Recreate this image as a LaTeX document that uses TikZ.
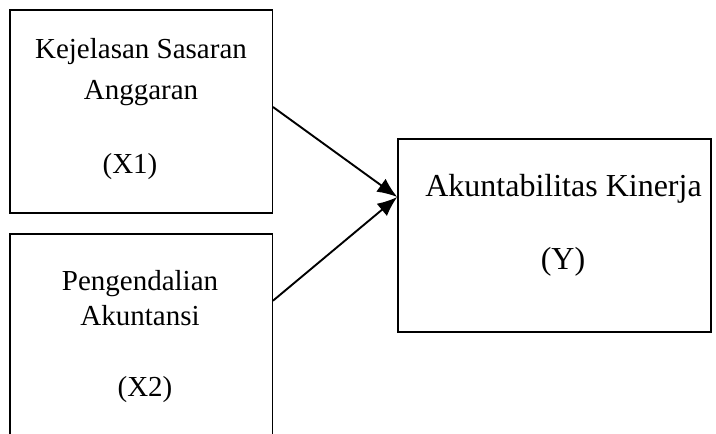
\documentclass[tikz,border=0pt]{standalone}
\usepackage{fontspec}
\setmainfont{Liberation Serif}
\usetikzlibrary{arrows.meta}
\begin{document}
\begin{tikzpicture}[x=1pt,y=-1pt,
  box/.style={draw=black,line width=1.5pt,rectangle,inner sep=0pt},
  lbl/.style={anchor=base,inner sep=0pt,font=\fontsize{29}{33}\selectfont},
  biglbl/.style={anchor=base,inner sep=0pt,font=\fontsize{32}{36}\selectfont},
  arr/.style={line width=1.9pt,-{Latex[length=20pt,width=16pt]}}]
\useasboundingbox (0,0) rectangle (716,434);
\clip (0,0) rectangle (716,434);
\node[box,minimum width=262.5pt,minimum height=203pt] (x1) at (141,111.5) {};
\node[box,minimum width=262.5pt,minimum height=216pt] (x2) at (141,342) {};
\node[box,minimum width=313pt,minimum height=193pt] (y) at (554.5,235.5) {};
\node[lbl] (t1a) at (141,58.3) {Kejelasan Sasaran};
\node[lbl] (t1b) at (141,99) {Anggaran};
\node[lbl] (t1c) at (130,173.3) {(X1)};
\node[lbl] (t2a) at (140,290) {Pengendalian};
\node[lbl] (t2b) at (140,325) {Akuntansi};
\node[lbl] (t2c) at (145,396.7) {(X2)};
\node[biglbl] (t3a) at (563.5,196.5) {Akuntabilitas Kinerja};
\node[biglbl] (t3b) at (563,269) {(Y)};
\draw[arr] ([yshift=4.5pt]x1.east) -- ([yshift=38.5pt]y.west);
\draw[arr] ([yshift=41.3pt]x2.east) -- ([yshift=38.5pt]y.west);
\end{tikzpicture}
\end{document}
